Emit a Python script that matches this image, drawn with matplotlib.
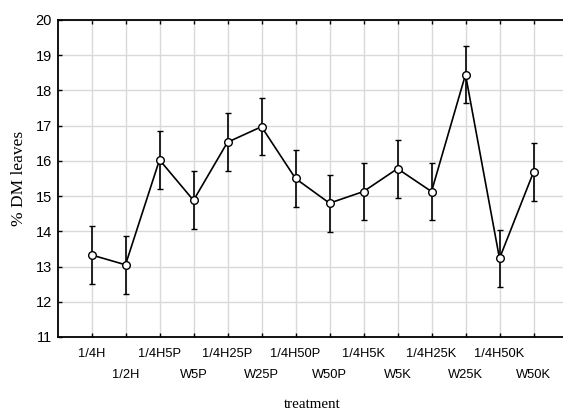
import matplotlib
matplotlib.use("Agg")
import matplotlib.pyplot as plt

treatments = ["1/4H", "1/2H", "1/4H5P", "W5P", "1/4H25P", "W25P", "1/4H50P",
              "W50P", "1/4H5K", "W5K", "1/4H25K", "W25K", "1/4H50K", "W50K"]
dm_leaves = [13.33, 13.05, 16.03, 14.88, 16.53, 16.97, 15.50,
             14.80, 15.13, 15.78, 15.13, 18.45, 13.23, 15.68]
err = [0.82, 0.82, 0.82, 0.82, 0.82, 0.81, 0.82,
       0.81, 0.82, 0.82, 0.82, 0.82, 0.82, 0.82]

fig = plt.figure(figsize=(5.63, 4.12), dpi=100)
# axes run past the right border, like the original export
ax = fig.add_axes([57.5 / 563, 75 / 412, 510 / 563, 317 / 412])

x = list(range(len(treatments)))
ax.errorbar(x, dm_leaves, yerr=err, color="black", linewidth=1.2,
            elinewidth=1.2, capsize=2.5, capthick=1.2,
            marker="o", markersize=5.5, markerfacecolor="white",
            markeredgecolor="black", markeredgewidth=1.0, zorder=3)

ax.set_xlim(-1, 14)
ax.set_ylim(11, 20)
ax.set_xticks(x)
ax.set_xticklabels(treatments, family="Liberation Sans", fontsize=9.3)
ax.set_yticks(range(11, 21))
ax.set_yticklabels([str(v) for v in range(11, 21)], family="Liberation Sans", fontsize=10.5)

ax.grid(True, color="#d9d9d9", linewidth=1.0, zorder=0)
ax.set_axisbelow(True)
ax.tick_params(direction="in", top=True, right=True, length=3, width=1.0, color="black")
ax.tick_params(axis="y", pad=4)
for i, tick in enumerate(ax.xaxis.get_major_ticks()):
    tick.set_pad(8 if i % 2 == 0 else 23)

for s in ax.spines.values():
    s.set_linewidth(1.3)

ax.set_ylabel("% DM leaves", family="Liberation Serif", fontsize=12.5, labelpad=6)
ax.xaxis.set_label_coords((311 - 57.5) / 510, -(405 - 337) / 317)
ax.set_xlabel("treatment", family="Liberation Serif", fontsize=10.8, va="center")

fig.savefig("out.png", dpi=100)
